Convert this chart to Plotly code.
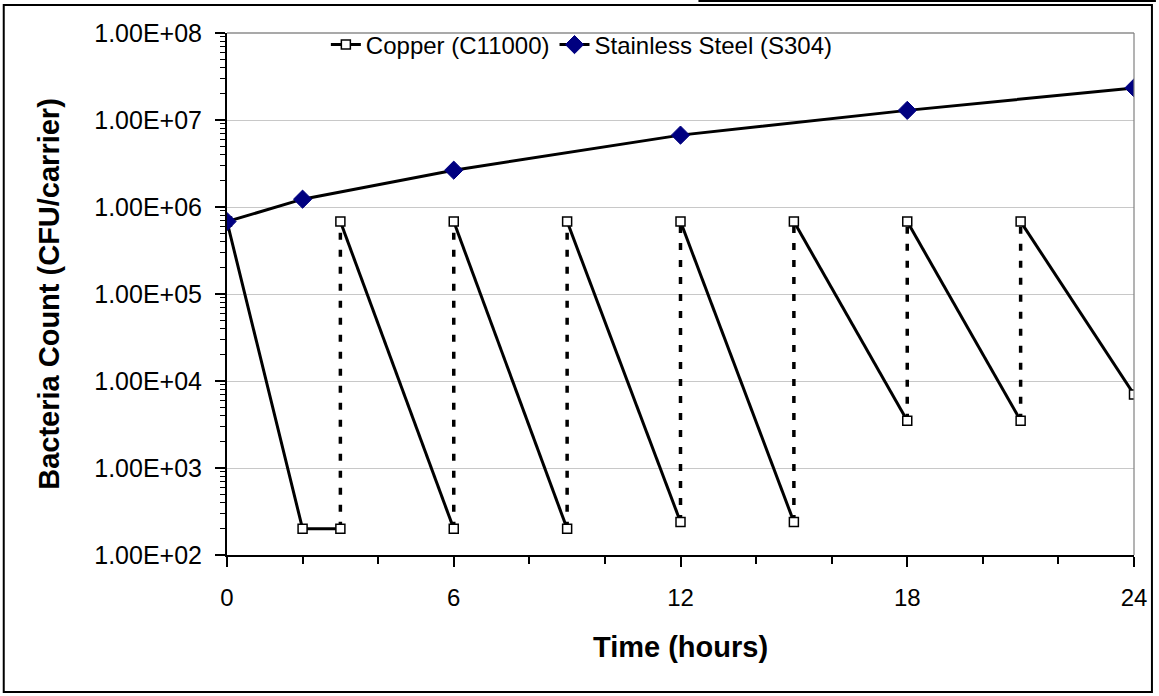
import plotly.graph_objects as go

# ---- data ----
copper_times = [0, 2, 3, 3, 6, 6, 9, 9, 12, 12, 15, 15, 18, 18, 21, 21, 24]
copper_counts = [6.8e5, 2.0e2, 2.0e2, 6.8e5, 2.0e2, 6.8e5, 2.0e2, 6.8e5, 2.4e2,
                 6.8e5, 2.4e2, 6.8e5, 3.5e3, 6.8e5, 3.5e3, 6.8e5, 7.0e3]
steel_times = [0, 2, 6, 12, 18, 24]
steel_counts = [6.8e5, 1.23e6, 2.65e6, 6.7e6, 1.29e7, 2.34e7]

y_tick_values = [1e2, 1e3, 1e4, 1e5, 1e6, 1e7, 1e8]
y_tick_labels = ["1.00E+02", "1.00E+03", "1.00E+04", "1.00E+05",
                 "1.00E+06", "1.00E+07", "1.00E+08"]
x_tick_values = [0, 6, 12, 18, 24]

copper_name = "Copper (C11000)"
steel_name = "Stainless Steel (S304)"

# ---- build segments: solid for decay, dotted for re-inoculation jumps ----
solid_x, solid_y = [], []
dot_x, dot_y = [], []
for i, (t, v) in enumerate(zip(copper_times, copper_counts)):
    if i > 0 and t == copper_times[i - 1]:
        solid_x.append(None)
        solid_y.append(None)
        dot_x += [copper_times[i - 1], t, None]
        dot_y += [copper_counts[i - 1], v, None]
    solid_x.append(t)
    solid_y.append(v)

FONT = "Liberation Sans, Arial, sans-serif"

fig = go.Figure()
fig.add_trace(go.Scatter(
    x=dot_x, y=dot_y, mode="lines", showlegend=False, hoverinfo="skip",
    line=dict(color="black", width=3.5, dash="7px,10px"),
))
fig.add_trace(go.Scatter(
    x=solid_x, y=solid_y, mode="lines+markers", name=copper_name,
    line=dict(color="black", width=3),
    marker=dict(symbol="square", size=9, color="white",
                line=dict(color="black", width=1.5)),
))
fig.add_trace(go.Scatter(
    x=steel_times, y=steel_counts, mode="lines+markers", name=steel_name,
    line=dict(color="black", width=3),
    marker=dict(symbol="diamond", size=14, color="#000080",
                line=dict(color="#000080", width=1)),
))

W, H = 1159, 696
L, R, T, B = 227, 22, 33, 141
pw, ph = W - L - R, H - T - B


def px(x):
    return (x - L) / pw


def py(y):
    return (H - B - y) / ph


minor_y = [k * 10 ** e for e in range(2, 8) for k in range(2, 10)]

fig.update_layout(
    width=W, height=H, autosize=False,
    margin=dict(l=L, r=R, t=T, b=B),
    paper_bgcolor="white", plot_bgcolor="white",
    font=dict(family=FONT, color="black", size=24),
    legend=dict(
        orientation="h", x=0.109, y=py(45), xanchor="left", yanchor="middle",
        bgcolor="rgba(0,0,0,0)", font=dict(size=24, family=FONT),
        itemclick=False,
    ),
    xaxis=dict(
        range=[0, 24], tickmode="array", tickvals=x_tick_values,
        ticks="outside", ticklen=10, tickwidth=1.5, tickcolor="black",
        showline=True, linecolor="black", linewidth=2,
        showgrid=False, zeroline=False,
        minor=dict(dtick=2, tick0=0, ticks="outside", ticklen=7,
                   tickwidth=1.5, tickcolor="black", showgrid=False),
        tickfont=dict(size=24, family=FONT),
        ticklabelstandoff=10,
        title=dict(text="<b>Time (hours)</b>", font=dict(size=29, family=FONT),
                   standoff=27),
    ),
    yaxis=dict(
        type="log", range=[2, 8], tickmode="array",
        tickvals=y_tick_values, ticktext=y_tick_labels,
        ticks="outside", ticklen=10, tickwidth=1.5, tickcolor="black",
        showline=True, linecolor="black", linewidth=2,
        showgrid=True, gridcolor="#c8c8c8", gridwidth=1.2, zeroline=False,
        minor=dict(tickmode="array", tickvals=minor_y, ticks="outside",
                   ticklen=5, tickwidth=1.2, tickcolor="black", showgrid=False),
        tickfont=dict(size=25, family=FONT),
        ticklabelstandoff=8,
        title=dict(text="<b>Bacteria Count (CFU/carrier)</b>",
                   font=dict(size=29, family=FONT), standoff=26),
    ),
    shapes=[
        # plot area border (top/right)
        dict(type="line", xref="paper", yref="paper", x0=0, x1=1, y0=1, y1=1,
             line=dict(color="#555555", width=1.2)),
        dict(type="line", xref="paper", yref="paper", x0=1, x1=1, y0=0, y1=1,
             line=dict(color="#808080", width=1.2)),
        # outer chart border
        dict(type="rect", xref="paper", yref="paper",
             x0=px(3), x1=px(1155), y0=py(692), y1=py(5),
             line=dict(color="black", width=2), layer="below"),
        dict(type="line", xref="paper", yref="paper",
             x0=px(700), x1=px(1159), y0=py(1), y1=py(1),
             line=dict(color="black", width=2)),
    ],
)

fig.write_html(
    "out.html",
    config={"displayModeBar": False},
    post_script="document.body.style.margin='0';document.body.style.padding='0';",
)
